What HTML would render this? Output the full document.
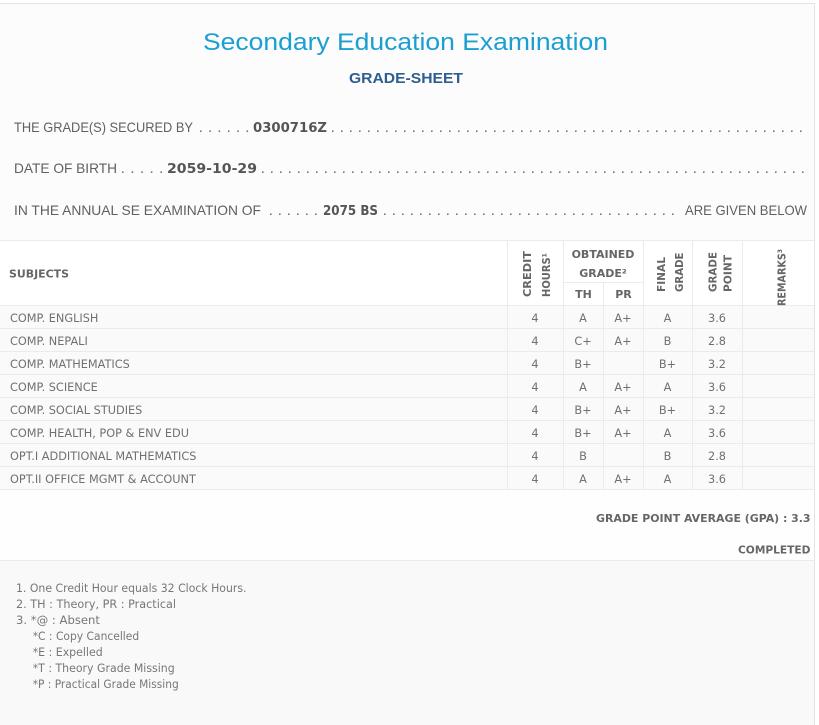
<!DOCTYPE html>
<html><head><meta charset="utf-8"><style>
html,body{margin:0;padding:0;background:#fff;width:819px;height:725px;overflow:hidden}
svg{display:block}
.t{font-family:"Liberation Sans",sans-serif;font-size:24px;fill:#1a9fd2}
.s{font-family:"Liberation Sans",sans-serif;font-size:15px;font-weight:bold;fill:#2e5e90}
.i{font-family:"Liberation Sans",sans-serif;font-size:14px;fill:#606060}
.b{font-family:"DejaVu Sans",sans-serif;font-weight:bold;font-size:13px;fill:#555}
.h{font-family:"DejaVu Sans",sans-serif;font-weight:bold;font-size:11px;fill:#666}
.d{font-family:"DejaVu Sans",sans-serif;font-size:11.3px;fill:#707070}
.n{font-family:"DejaVu Sans",sans-serif;font-size:11.3px;fill:#777}
.c{text-anchor:middle}
.e{text-anchor:end}
</style></head><body>
<svg width="819" height="725" viewBox="0 0 819 725" xmlns="http://www.w3.org/2000/svg">
<rect width="819" height="725" fill="#fff"/>
<rect x="0" y="3" width="814" height="722" fill="#fcfcfc"/>
<rect x="0" y="240" width="814" height="65" fill="#fff"/>
<rect x="0" y="305" width="814" height="184" fill="#fafafa"/>
<rect x="0" y="489" width="814" height="71" fill="#fefefe"/>
<rect x="0" y="560" width="814" height="165" fill="#f9f9f9"/>
<line x1="0" y1="3.5" x2="815" y2="3.5" stroke="#e4e4e4"/>
<line x1="814.5" y1="3" x2="814.5" y2="725" stroke="#e4e4e4"/>

<text class="t" x="203" y="50" textLength="405" lengthAdjust="spacingAndGlyphs">Secondary Education Examination</text>
<text class="s" x="349" y="83" textLength="114" lengthAdjust="spacingAndGlyphs">GRADE-SHEET</text>

<!-- line 1 -->
<text class="i" x="14" y="132" textLength="179" lengthAdjust="spacingAndGlyphs">THE GRADE(S) SECURED BY</text>
<line x1="200" y1="131.2" x2="250" y2="131.2" stroke="#777" stroke-width="1.6" stroke-dasharray="1.6 7.7"/>
<text class="b" x="253" y="132" textLength="74" lengthAdjust="spacingAndGlyphs">0300716Z</text>
<line x1="332" y1="131.2" x2="807" y2="131.2" stroke="#777" stroke-width="1.6" stroke-dasharray="1.6 7.4"/>

<!-- line 2 -->
<text class="i" x="14" y="173" textLength="103" lengthAdjust="spacingAndGlyphs">DATE OF BIRTH</text>
<line x1="122" y1="172.2" x2="164" y2="172.2" stroke="#777" stroke-width="1.6" stroke-dasharray="1.6 8"/>
<text class="b" x="167" y="173" textLength="90" lengthAdjust="spacingAndGlyphs">2059-10-29</text>
<line x1="262" y1="172.2" x2="807" y2="172.2" stroke="#777" stroke-width="1.6" stroke-dasharray="1.6 7.4"/>

<!-- line 3 -->
<text class="i" x="14" y="215" textLength="247" lengthAdjust="spacingAndGlyphs">IN THE ANNUAL SE EXAMINATION OF</text>
<line x1="270" y1="214.2" x2="319" y2="214.2" stroke="#777" stroke-width="1.6" stroke-dasharray="1.6 7.4"/>
<text class="b" x="323" y="215" textLength="55" lengthAdjust="spacingAndGlyphs">2075 BS</text>
<line x1="384" y1="214.2" x2="681" y2="214.2" stroke="#777" stroke-width="1.6" stroke-dasharray="1.6 7.4"/>
<text class="i" x="685" y="215" textLength="122" lengthAdjust="spacingAndGlyphs">ARE GIVEN BELOW</text>

<!-- table lines -->
<g stroke="#ebebeb" stroke-width="1">
<line x1="0" y1="240.5" x2="814" y2="240.5"/>
<line x1="563" y1="282.5" x2="643" y2="282.5"/>
<line x1="0" y1="305.5" x2="814" y2="305.5"/>
<line x1="0" y1="328.5" x2="814" y2="328.5"/>
<line x1="0" y1="351.5" x2="814" y2="351.5"/>
<line x1="0" y1="374.5" x2="814" y2="374.5"/>
<line x1="0" y1="397.5" x2="814" y2="397.5"/>
<line x1="0" y1="420.5" x2="814" y2="420.5"/>
<line x1="0" y1="443.5" x2="814" y2="443.5"/>
<line x1="0" y1="466.5" x2="814" y2="466.5"/>
<line x1="0" y1="489.5" x2="814" y2="489.5"/>
<line x1="0" y1="560.5" x2="814" y2="560.5"/>
<line x1="507.5" y1="240" x2="507.5" y2="489"/>
<line x1="563.5" y1="240" x2="563.5" y2="489"/>
<line x1="603.5" y1="282" x2="603.5" y2="489"/>
<line x1="643.5" y1="240" x2="643.5" y2="489"/>
<line x1="692.5" y1="240" x2="692.5" y2="489"/>
<line x1="742.5" y1="240" x2="742.5" y2="489"/>
</g>

<!-- header -->
<text class="h" x="9" y="277.5" textLength="60" lengthAdjust="spacingAndGlyphs">SUBJECTS</text>
<text class="h c" x="603" y="258">OBTAINED</text>
<text class="h c" x="603" y="277">GRADE²</text>
<text class="h c" x="583.5" y="298">TH</text>
<text class="h c" x="623.5" y="298">PR</text>
<text class="h" transform="translate(531,297) rotate(-90)" textLength="46" lengthAdjust="spacingAndGlyphs">CREDIT</text>
<text class="h" transform="translate(550,297) rotate(-90)" textLength="44" lengthAdjust="spacingAndGlyphs">HOURS¹</text>
<text class="h" transform="translate(665,292) rotate(-90)" textLength="35" lengthAdjust="spacingAndGlyphs">FINAL</text>
<text class="h" transform="translate(683,292) rotate(-90)" textLength="39.5" lengthAdjust="spacingAndGlyphs">GRADE</text>
<text class="h" transform="translate(716.5,292) rotate(-90)" textLength="40" lengthAdjust="spacingAndGlyphs">GRADE</text>
<text class="h" transform="translate(731.5,292) rotate(-90)" textLength="37" lengthAdjust="spacingAndGlyphs">POINT</text>
<text class="h" transform="translate(785.5,306) rotate(-90)" textLength="57" lengthAdjust="spacingAndGlyphs">REMARKS³</text>

<!-- rows -->
<g class="d">
<text x="10" y="322">COMP. ENGLISH</text>
<text class="c" x="535" y="322">4</text><text class="c" x="583" y="322">A</text><text class="c" x="623" y="322">A+</text><text class="c" x="667.5" y="322">A</text><text class="c" x="717" y="322">3.6</text>

<text x="10" y="345">COMP. NEPALI</text>
<text class="c" x="535" y="345">4</text><text class="c" x="583" y="345">C+</text><text class="c" x="623" y="345">A+</text><text class="c" x="667.5" y="345">B</text><text class="c" x="717" y="345">2.8</text>

<text x="10" y="368">COMP. MATHEMATICS</text>
<text class="c" x="535" y="368">4</text><text class="c" x="583" y="368">B+</text><text class="c" x="667.5" y="368">B+</text><text class="c" x="717" y="368">3.2</text>

<text x="10" y="391">COMP. SCIENCE</text>
<text class="c" x="535" y="391">4</text><text class="c" x="583" y="391">A</text><text class="c" x="623" y="391">A+</text><text class="c" x="667.5" y="391">A</text><text class="c" x="717" y="391">3.6</text>

<text x="10" y="414">COMP. SOCIAL STUDIES</text>
<text class="c" x="535" y="414">4</text><text class="c" x="583" y="414">B+</text><text class="c" x="623" y="414">A+</text><text class="c" x="667.5" y="414">B+</text><text class="c" x="717" y="414">3.2</text>

<text x="10" y="437">COMP. HEALTH, POP &amp; ENV EDU</text>
<text class="c" x="535" y="437">4</text><text class="c" x="583" y="437">B+</text><text class="c" x="623" y="437">A+</text><text class="c" x="667.5" y="437">A</text><text class="c" x="717" y="437">3.6</text>

<text x="10" y="460">OPT.I ADDITIONAL MATHEMATICS</text>
<text class="c" x="535" y="460">4</text><text class="c" x="583" y="460">B</text><text class="c" x="667.5" y="460">B</text><text class="c" x="717" y="460">2.8</text>

<text x="10" y="483">OPT.II OFFICE MGMT &amp; ACCOUNT</text>
<text class="c" x="535" y="483">4</text><text class="c" x="583" y="483">A</text><text class="c" x="623" y="483">A+</text><text class="c" x="667.5" y="483">A</text><text class="c" x="717" y="483">3.6</text>
</g>

<text class="h e" x="810.5" y="522" textLength="214.5" lengthAdjust="spacingAndGlyphs">GRADE POINT AVERAGE (GPA) : 3.3</text>
<text class="h e" x="810.5" y="553.5" textLength="72.5" lengthAdjust="spacingAndGlyphs">COMPLETED</text>

<!-- notes -->
<text class="n" x="16" y="592" textLength="230.5" lengthAdjust="spacingAndGlyphs">1. One Credit Hour equals 32 Clock Hours.</text>
<text class="n" x="16" y="608" textLength="160" lengthAdjust="spacingAndGlyphs">2. TH : Theory, PR : Practical</text>
<text class="n" x="16" y="624" textLength="84" lengthAdjust="spacingAndGlyphs">3. *@ : Absent</text>
<text class="n" x="32.7" y="640" textLength="106.5" lengthAdjust="spacingAndGlyphs">*C : Copy Cancelled</text>
<text class="n" x="32.7" y="656" textLength="70" lengthAdjust="spacingAndGlyphs">*E : Expelled</text>
<text class="n" x="32.7" y="672" textLength="142" lengthAdjust="spacingAndGlyphs">*T : Theory Grade Missing</text>
<text class="n" x="32.7" y="688" textLength="146" lengthAdjust="spacingAndGlyphs">*P : Practical Grade Missing</text>
</svg>
</body></html>
